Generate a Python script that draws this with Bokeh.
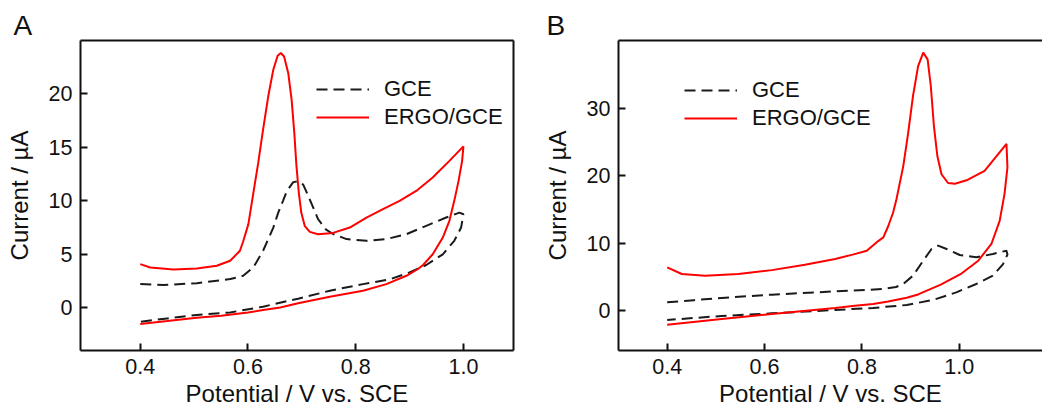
from bokeh.plotting import figure
from bokeh.layouts import row
from bokeh.models import FixedTicker, Legend, LegendItem, LinearAxis, Range1d, Title
from bokeh.embed import file_html
from bokeh.resources import INLINE

# ---------------- data ----------------
series_names = ["GCE", "ERGO/GCE"]
panel_letters = ["A", "B"]
x_ticks = [0.4, 0.6, 0.8, 1.0]
x_tick_labels = ["0.4", "0.6", "0.8", "1.0"]
a_y_ticks = [0, 5, 10, 15, 20]
b_y_ticks = [0, 10, 20, 30]

# Panel A, GCE (forward scan then reverse scan)
a_gce_v = [0.400, 0.443, 0.505, 0.567, 0.591, 0.610, 0.628, 0.647, 0.656, 0.665, 0.672, 0.684, 0.693,
           0.7025, 0.709, 0.7148, 0.730, 0.745, 0.758, 0.783, 0.820, 0.857, 0.894, 0.931, 0.968,
           0.9926, 1.000,
           0.9957, 0.983, 0.9617, 0.931, 0.900, 0.863, 0.8135, 0.752, 0.693, 0.628, 0.567, 0.505,
           0.450, 0.400]
a_gce_i = [2.21, 2.12, 2.30, 2.68, 2.99, 3.77, 5.33, 7.50, 8.88, 10.0, 10.9, 11.75, 11.84,
           11.52, 10.8, 10.12, 8.30, 7.30, 6.90, 6.42, 6.26, 6.42, 6.88, 7.66, 8.44,
           8.90, 8.75,
           7.50, 6.26, 5.00, 4.00, 3.30, 2.65, 2.21, 1.59, 0.85, 0.10, -0.44, -0.68,
           -1.00, -1.31]

# Panel A, ERGO/GCE
a_ergo_v = [0.400, 0.4185, 0.4617, 0.505, 0.542, 0.567, 0.585, 0.591, 0.6006, 0.610, 0.619, 0.628,
            0.6376, 0.647, 0.655, 0.661, 0.667, 0.6747, 0.681, 0.686, 0.690, 0.6944, 0.699, 0.7056,
            0.7148, 0.730, 0.758, 0.789, 0.820, 0.8506, 0.8815, 0.9124, 0.943, 0.974, 1.000,
            0.9976, 0.991, 0.983, 0.974, 0.9617, 0.943, 0.925, 0.915, 0.894, 0.857, 0.8135, 0.752,
            0.693, 0.660, 0.628, 0.600, 0.550, 0.505, 0.450, 0.400]
a_ergo_i = [4.08, 3.77, 3.58, 3.67, 3.93, 4.39, 5.33, 6.20, 7.80, 10.75, 13.55, 16.66,
            19.78, 22.27, 23.58, 23.83, 23.50, 21.96, 19.47, 16.36, 13.24, 10.75, 8.88, 7.63,
            7.10, 6.87, 7.00, 7.50, 8.44, 9.22, 10.0, 10.93, 12.18, 13.74, 15.1,
            13.74, 11.87, 10.0, 8.13, 6.57, 5.00, 4.00, 3.60, 2.99, 2.21, 1.59, 1.03,
            0.42, 0.02, -0.22, -0.45, -0.75, -0.93, -1.25, -1.52]

# Panel B, GCE
b_gce_v = [0.400, 0.455, 0.512, 0.615, 0.745, 0.844, 0.870, 0.885, 0.905, 0.926, 0.943, 0.9565,
           0.974, 1.001, 1.035, 1.069, 1.097, 1.099,
           1.090, 1.069, 1.035, 0.994, 0.946, 0.892, 0.823, 0.745, 0.615, 0.512, 0.400]
b_gce_i = [1.23, 1.55, 1.88, 2.37, 2.86, 3.20, 3.50, 3.95, 5.18, 7.40, 9.13, 9.62,
           9.13, 8.24, 7.90, 8.39, 8.88, 8.30,
           6.90, 5.18, 3.95, 2.71, 1.58, 0.84, 0.40, 0.10, -0.40, -0.79, -1.38]

# Panel B, ERGO/GCE
b_ergo_v = [0.400, 0.430, 0.478, 0.546, 0.615, 0.683, 0.745, 0.781, 0.810, 0.8335, 0.844, 0.854,
            0.864, 0.871, 0.885, 0.895, 0.905, 0.9155, 0.926, 0.935, 0.9415, 0.948, 0.955, 0.9635,
            0.977, 0.991, 1.015, 1.052, 1.097,
            1.099, 1.093, 1.083, 1.066, 1.039, 1.0045, 0.962, 0.9155, 0.892, 0.854, 0.823, 0.7856,
            0.745, 0.615, 0.512, 0.400]
b_ergo_i = [6.40, 5.43, 5.18, 5.43, 6.00, 6.80, 7.65, 8.30, 8.88, 10.3, 10.85, 12.5,
            14.5, 16.5, 21.4, 26.3, 31.8, 36.2, 38.2, 37.2, 33.3, 27.3, 22.9, 20.2,
            18.9, 18.78, 19.3, 20.7, 24.7,
            21.2, 17.3, 13.3, 9.87, 7.40, 5.50, 3.85, 2.40, 1.90, 1.35, 1.00, 0.74,
            0.38, -0.49, -1.23, -2.07]

FONT = "Liberation Sans"
INK = "#111111"
RED = "#ff0000"
DASH_COLOR = "#1a1a1a"


def style_axis(ax):
    ax.axis_line_width = 2
    ax.axis_line_color = INK
    ax.major_tick_in = 7
    ax.major_tick_out = 0
    ax.major_tick_line_width = 2
    ax.major_tick_line_color = INK
    ax.minor_tick_line_color = None
    ax.major_label_text_font = FONT
    ax.major_label_text_font_size = "21.5px"
    ax.major_label_text_color = INK
    ax.axis_label_text_font = FONT
    ax.axis_label_text_font_size = "24px"
    ax.axis_label_text_font_style = "normal"
    ax.axis_label_text_color = INK


def blank_axis():
    ax = LinearAxis(ticker=FixedTicker(ticks=[]))
    ax.axis_line_width = 2
    ax.axis_line_color = INK
    ax.major_tick_line_color = None
    ax.minor_tick_line_color = None
    ax.major_label_text_font_size = "0px"
    ax.major_label_standoff = 0
    return ax


def make_panel(letter, letter_dx, w, bl, br, xr, yr, yticks, gv, gi, ev, ei, leg_loc, right_border):
    title = Title(text=letter, align="left", offset=letter_dx, standoff=0,
                  text_font=FONT, text_font_size="28px", text_font_style="normal",
                  text_color=INK)
    p = figure(width=w, height=413, output_backend="svg", toolbar_location=None,
               x_range=Range1d(*xr), y_range=Range1d(*yr), title=title,
               min_border_left=bl, min_border_right=br, min_border_top=40, min_border_bottom=63)
    p.outline_line_color = None
    p.xgrid.visible = False
    p.ygrid.visible = False
    p.background_fill_color = "white"
    p.border_fill_color = "white"

    style_axis(p.xaxis[0])
    style_axis(p.yaxis[0])
    p.xaxis[0].ticker = FixedTicker(ticks=x_ticks)
    p.xaxis[0].major_label_overrides = {t: s for t, s in zip(x_ticks, x_tick_labels)}
    p.xaxis[0].major_label_standoff = 8
    p.xaxis[0].axis_label = "Potential / V vs. SCE"
    p.xaxis[0].axis_label_standoff = 3
    p.yaxis[0].ticker = FixedTicker(ticks=yticks)
    p.yaxis[0].major_label_standoff = 8
    p.yaxis[0].axis_label = "Current / µA"
    p.yaxis[0].axis_label_standoff = 13

    p.add_layout(blank_axis(), "above")
    if right_border:
        p.add_layout(blank_axis(), "right")

    r1 = p.line(gv, gi, line_color=DASH_COLOR, line_width=2, line_dash="11 6")
    r2 = p.line(ev, ei, line_color=RED, line_width=2)

    leg = Legend(items=[LegendItem(label=series_names[0], renderers=[r1]),
                        LegendItem(label=series_names[1], renderers=[r2])],
                 location=leg_loc, padding=0, margin=0, spacing=2,
                 glyph_width=53, glyph_height=22, label_standoff=15,
                 label_text_font=FONT, label_text_font_size="22px", label_text_color=INK,
                 border_line_color=None, background_fill_alpha=0)
    p.add_layout(leg, "center")
    return p


pA = make_panel(panel_letters[0], -67, 520, 80, 7, (0.289, 1.093), (-4.0, 25.0), a_y_ticks,
                a_gce_v, a_gce_i, a_ergo_v, a_ergo_i, (236, 220), True)
pB = make_panel(panel_letters[1], -72, 522, 98, 0, (0.30, 1.171), (-5.9, 40.0), b_y_ticks,
                b_gce_v, b_gce_i, b_ergo_v, b_ergo_i, (66, 219), False)

layout = row(pA, pB)
open("out.html", "w").write(file_html(layout, INLINE))
